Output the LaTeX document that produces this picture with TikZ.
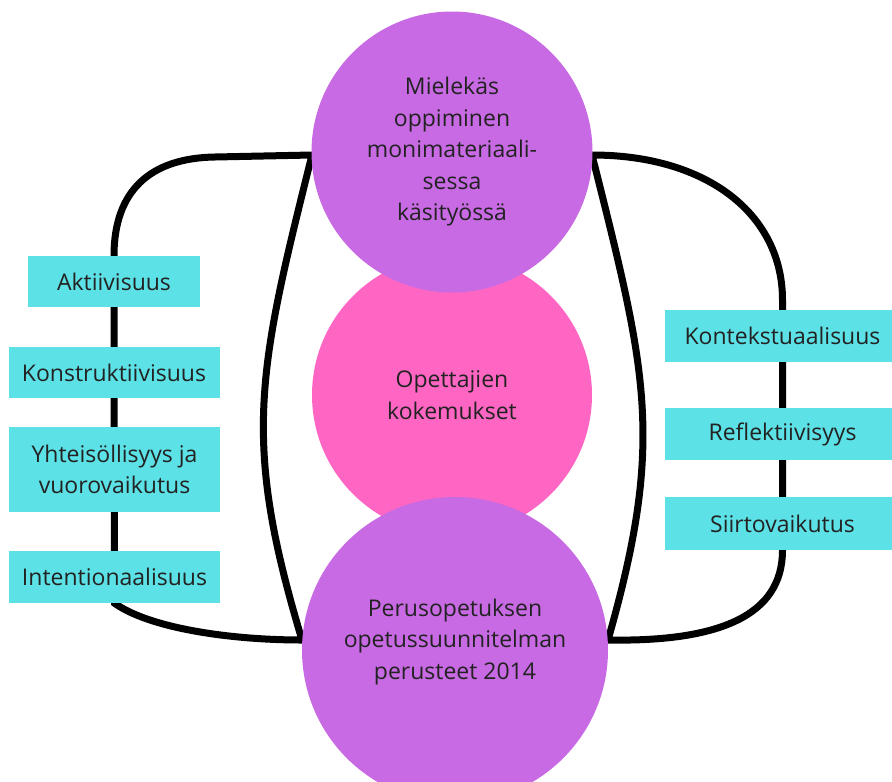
\documentclass[tikz,border=0pt]{standalone}
\usepackage{fontspec}
\setmainfont{Open Sans}
\usetikzlibrary{backgrounds}
\definecolor{purp}{HTML}{C86AE3}
\definecolor{pnk}{HTML}{FF66C4}
\definecolor{cyn}{HTML}{5CE1E6}
\definecolor{txt}{HTML}{222222}
\begin{document}
\begin{tikzpicture}[x=1pt,y=-1pt,
  txtstyle/.style={font=\fontsize{23}{31.5}\selectfont, text=txt, align=center},
  circ/.style={circle, inner sep=0pt, txtstyle},
  box/.style={fill=cyn, minimum height=51pt, inner sep=0pt, txtstyle},
  conn/.style={line width=7pt, black, line join=miter}]
\useasboundingbox (0,0) rectangle (892,782);
\clip (0,0) rectangle (892,782);
% circles
\node[circ, fill=pnk, minimum size=280pt] (mid) at (452,395) {Opettajien\\kokemukset};
\node[circ, fill=purp, minimum size=281pt] (top) at (452,152) {Mielekäs\\oppiminen\\monimateriaali-\\sessa\\käsityössä};
\node[circ, fill=purp, minimum size=306pt] (bot) at (455,650) {};
\node[txtstyle] (botlabel) at (455,642) {Perusopetuksen\\opetussuunnitelman\\perusteet 2014};
% left boxes
\node[box, minimum width=172pt] (b1) at (114,281.5) {Aktiivisuus};
\node[box, minimum width=211pt] (b2) at (114,372.5) {Konstruktiivisuus};
\node[box, minimum width=211pt, minimum height=85pt] (b3) at (114.5,469.5) {Yhteisöllisyys ja\\vuorovaikutus};
\node[box, minimum width=211pt, minimum height=52pt] (b4) at (114.5,577) {Intentionaalisuus};
% right boxes
\node[box, minimum width=236pt, minimum height=52pt] (r1) at (782.5,336) {Kontekstuaalisuus};
\node[box, minimum width=236pt, minimum height=52pt] (r2) at (782.5,434) {Reflektiivisyys};
\node[box, minimum width=236pt, minimum height=53pt] (r3) at (782.5,523.5) {Siirtovaikutus};
% corner coordinates
\coordinate (lt) at (312,155);
\coordinate (lb) at (302,640);
\coordinate (rt) at (592,155);
\coordinate (rb) at (608,640);
\coordinate (rv) at (782.5,300);
\begin{scope}[on background layer]
\draw[conn] (lt) -- ++(-97,2) .. controls +(-65,1) and +(0,-65) .. (b1.north)
  -- (b4.south) .. controls +(35,25) and +(-72,0) .. (lb)
  .. controls (242,440.5) and (257,374.5) .. (lt) -- cycle;
\draw[conn] (rt) .. controls (708,155) and (rv |- 0,215) .. (rv)
  -- (r3.south) .. controls +(0,65) and (720,642) .. (rb)
  .. controls (665,440) and (647,374) .. (rt) -- cycle;
\end{scope}
\end{tikzpicture}
\end{document}
